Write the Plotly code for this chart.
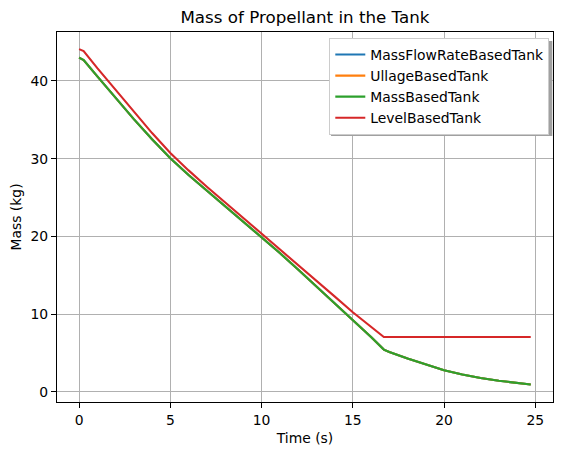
import plotly.graph_objects as go

# Time samples (s)
time_main = [0.0, 0.25, 1, 2, 3, 4, 5, 6, 7, 8, 9, 10, 11, 12, 13, 14, 15, 16, 16.7,
             17, 18, 18.7, 19, 20, 21, 22, 23, 24, 24.75]

# MassFlowRate / Ullage / Mass based tanks (identical curves)
mass_based = [43.0, 42.7, 40.6, 37.85, 35.1, 32.5, 30.05, 27.9, 25.9, 23.93, 21.96, 19.95,
              17.87, 15.75, 13.6, 11.43, 9.25, 7.07, 5.45,
              5.15, 4.3, 3.75, 3.55, 2.8, 2.25, 1.8, 1.45, 1.15, 0.95]
massflow_based = list(mass_based)
ullage_based = list(mass_based)

# Level based tank
level_based = [44.1, 43.85, 41.65, 38.85, 36.05, 33.3, 30.75, 28.5, 26.4, 24.4, 22.4, 20.4,
               18.4, 16.4, 14.35, 12.3, 10.25, 8.35, 7.07,
               7.07, 7.07, 7.07, 7.07, 7.07, 7.07, 7.07, 7.07, 7.07, 7.07]

names = ["MassFlowRateBasedTank", "UllageBasedTank", "MassBasedTank", "LevelBasedTank"]
series = [massflow_based, ullage_based, mass_based, level_based]
colors = ["#1f77b4", "#ff7f0e", "#2ca02c", "#d62728"]

x_ticks = [0, 5, 10, 15, 20, 25]
y_ticks = [0, 10, 20, 30, 40]

fig = go.Figure()
for n, s, c in zip(names, series, colors):
    fig.add_trace(go.Scatter(x=time_main, y=s, mode="lines", name=n,
                             line=dict(color=c, width=2.1)))

FONT = "DejaVu Sans"
axis_common = dict(showgrid=True, gridcolor="#b0b0b0", gridwidth=1.1,
                   showline=True, linecolor="black", linewidth=1.1, mirror=True,
                   ticks="outside", ticklen=5, tickwidth=1.1, tickcolor="black",
                   zeroline=False, tickfont=dict(family=FONT, size=13.9, color="black"))

L, R, T, B = 57.3, 552.7, 32.0, 402.3
PW, PH = R - L, B - T


def px(xp):
    return (xp - L) / PW


def py(yp):
    return (B - yp) / PH


fig.update_layout(
    width=562, height=455,
    margin=dict(l=57, r=9, t=32, b=53),
    paper_bgcolor="white", plot_bgcolor="white",
    font=dict(family=FONT, color="black"),
    title=dict(text="Mass of Propellant in the Tank", x=(L + R) / 2 / 562,
               xanchor="center", y=1 - 17 / 455, yanchor="middle",
               font=dict(family=FONT, size=16.7, color="black")),
    xaxis=dict(range=[-1.21, 25.97], tickvals=x_ticks,
               title=dict(text="Time (s)", font=dict(family=FONT, size=13.9), standoff=6),
               **axis_common),
    yaxis=dict(range=[-1.29, 46.3], tickvals=y_ticks,
               title=dict(text="Mass (kg)", font=dict(family=FONT, size=13.9), standoff=5),
               **axis_common),
    legend=dict(x=px(549), xanchor="right", y=py(38), yanchor="top",
                bgcolor="white", bordercolor="#cccccc", borderwidth=1,
                font=dict(family=FONT, size=13.9, color="black"),
                tracegroupgap=0, itemwidth=30),
    showlegend=True,
)

# legend shadow (offset gray box behind the legend)
fig.add_shape(type="rect", xref="paper", yref="paper",
              x0=px(331), x1=px(552), y0=py(136), y1=py(41),
              fillcolor="#a0a0a0", line=dict(width=0), layer="above")

fig.write_html("out.html")
